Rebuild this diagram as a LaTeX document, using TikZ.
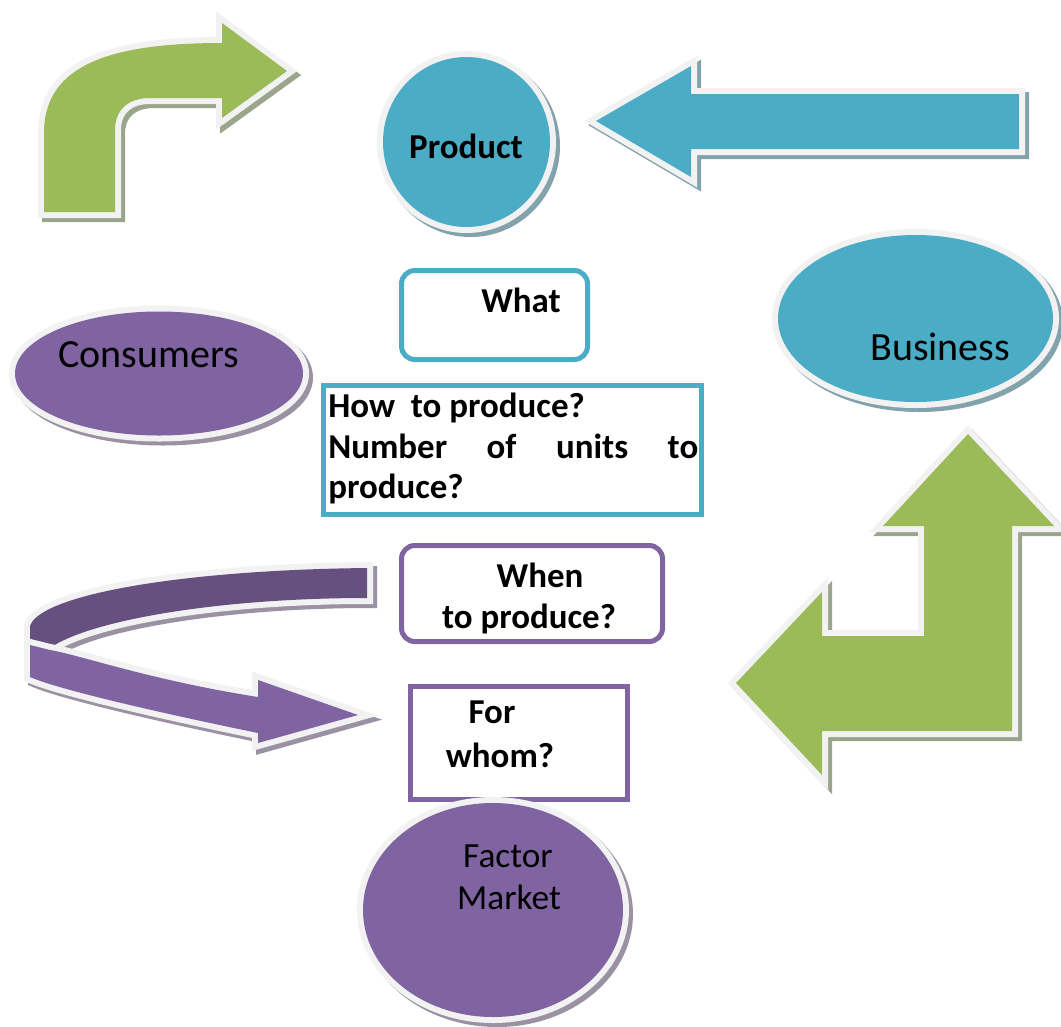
\documentclass[tikz,border=0pt]{standalone}
\usepackage{fontspec}
\setmainfont{Carlito}
\definecolor{myGreen}{HTML}{9BBB59}
\definecolor{myBlue}{HTML}{4BACC6}
\definecolor{myPurple}{HTML}{8064A2}
\definecolor{myDarkPurple}{HTML}{65507F}
\definecolor{rim}{HTML}{F2F2F2}
\definecolor{shG}{HTML}{9AA58B}
\definecolor{shB}{HTML}{82A2AC}
\definecolor{shP}{HTML}{9A92A3}
\newcommand\fancyshape[3]{%
  \path[shad=#3] #1;
  \path[rimline] #1;
  \path[fill=#2] #1;}
\begin{document}
\begin{tikzpicture}[x=0.75pt,y=-0.75pt,
  rimline/.style={draw=rim,line width=9pt,line join=miter},
  shad/.style={draw=#1,fill=#1,line width=9pt,line join=miter,shift={(4,4)}},
  boldtxt/.style={font=\fontsize{26.2}{31}\selectfont\bfseries,inner sep=0pt,anchor=base},
  regtxt/.style={font=\fontsize{30}{36}\selectfont,inner sep=0pt,anchor=base west},
  midtxt/.style={font=\fontsize{26.5}{31}\selectfont,inner sep=0pt,anchor=base},
  boxline/.style={line width=3.75pt}]
\useasboundingbox (0,0) rectangle (1061,1026);

% curved green arrow (top left)
\fancyshape{(44,212) -- (44,133) .. controls (44,65) and (110,43) .. (222,43) -- (222,23) -- (287,71) -- (222,118) -- (222,98) -- (150,98) .. controls (128,98) and (115,110) .. (115,130) -- (115,212) -- cycle}{myGreen}{shG}

% blue arrow pointing left
\fancyshape{(596,121) -- (691,66) -- (691,94) -- (1019,94) -- (1019,149) -- (691,149) -- (691,177) -- cycle}{myBlue}{shB}

% Product circle
\fancyshape{(466.5,142) ellipse [x radius=83.5, y radius=85]}{myBlue}{shB}
\node[boldtxt] (product) at (466,158) {Product};

% Business ellipse
\fancyshape{(915.5,318.5) ellipse [x radius=137.5, y radius=83.5]}{myBlue}{shB}
\node[regtxt] (business) at (870,360) {Business};

% Consumers ellipse
\fancyshape{(159,373.5) ellipse [x radius=144, y radius=62]}{myPurple}{shP}
\node[regtxt] (consumers) at (58,367) {Consumers};

% What box
\draw[boxline,draw=myBlue,rounded corners=10pt] (401.5,270.5) rectangle (587.5,359.5);
\node[boldtxt] (what) at (521,312) {What};

% How box
\draw[boxline,draw=myBlue] (323.5,385.5) rectangle (701.5,514.5);
\node[boldtxt,anchor=base west] (how1) at (328,417) {How\ \ to produce?};
\node[boldtxt,anchor=base west] (how2) at (328,458) {\makebox[277.5pt][s]{Number of units to}};
\node[boldtxt,anchor=base west] (how3) at (328,498) {produce?};

% purple ribbon arrow
\fancyshape{(367,568) .. controls (180,570) and (40,595) .. (30,626) -- (30,645) -- (50,648) .. controls (90,620) and (220,598) .. (367,598) -- cycle}{myDarkPurple}{shP}
\fancyshape{(30,645) -- (30,677) .. controls (62,691) and (180,717) .. (258,733) -- (258,743) -- (358,715) -- (258,680) -- (258,697) .. controls (150,680) and (80,655) .. (50,650) -- cycle}{myPurple}{shP}

% When box
\draw[boxline,draw=myPurple,rounded corners=10pt] (401.5,545.5) rectangle (662.5,641.5);
\node[boldtxt] (when1) at (540,587) {When};
\node[boldtxt] (when2) at (529,628) {to produce?};

% For whom box
\draw[boxline,draw=myPurple] (410.5,686.5) rectangle (627.5,799.5);
\node[boldtxt] (for1) at (492,723) {For};
\node[boldtxt] (for2) at (500,767) {whom?};

% green L arrow (right)
\fancyshape{(968,434) -- (1054,526) -- (1012,526) -- (1012,731) -- (822,731) -- (822,775) -- (736,683) -- (822,592) -- (822,636) -- (924,636) -- (924,526) -- (883,526) -- cycle}{myGreen}{shG}

% Factor Market circle
\fancyshape{(493,910) ellipse [x radius=130, y radius=107]}{myPurple}{shP}
\node[midtxt] (factor) at (508,867) {Factor};
\node[midtxt] (market) at (509,909) {Market};
\end{tikzpicture}
\end{document}
